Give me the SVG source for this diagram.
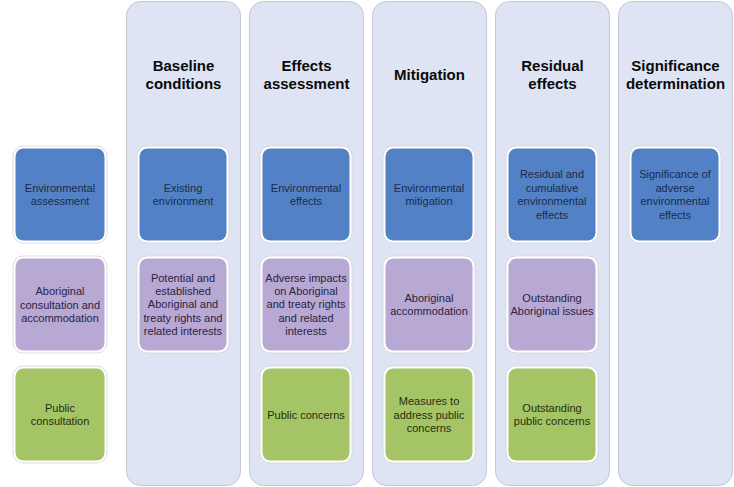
<svg xmlns="http://www.w3.org/2000/svg" width="734" height="487" viewBox="0 0 734 487">
<style>
  .col{fill:#DEE4F4;stroke:#C3C8D3;stroke-width:1}
  .halo{fill:#FFFFFF;stroke:#D3D3D6;stroke-width:0.8}
  .blue{fill:#5282C5}
  .purple{fill:#B8A8D4}
  .green{fill:#A4C465}
  .title{font-family:"Liberation Sans",Arial,sans-serif;font-weight:bold;font-size:15px;fill:#0A0A0A;text-anchor:middle}
  .t{font-family:"Liberation Sans",Arial,sans-serif;font-size:11px;text-anchor:middle}
  .tb{fill:#1B2B4A}
  .tp{fill:#2A2440}
  .tg{fill:#25300F}
</style>
<rect width="734" height="487" fill="#FFFFFF"/>
<g id="columns">
  <g id="col-baseline">
    <rect class="col" x="126.5" y="1.5" width="114" height="484" rx="14"/>
    <text class="title" x="183.5" y="70.5">Baseline<tspan x="183.5" y="88.5">conditions</tspan></text>
  </g>
  <g id="col-effects">
    <rect class="col" x="249.5" y="1.5" width="114" height="484" rx="14"/>
    <text class="title" x="306.5" y="70.5">Effects<tspan x="306.5" y="88.5">assessment</tspan></text>
  </g>
  <g id="col-mitigation">
    <rect class="col" x="372.5" y="1.5" width="114" height="484" rx="14"/>
    <text class="title" x="429.5" y="79.5">Mitigation</text>
  </g>
  <g id="col-residual">
    <rect class="col" x="495.5" y="1.5" width="114" height="484" rx="14"/>
    <text class="title" x="552.5" y="70.5">Residual<tspan x="552.5" y="88.5">effects</tspan></text>
  </g>
  <g id="col-significance">
    <rect class="col" x="618.5" y="1.5" width="114" height="484" rx="14"/>
    <text class="title" x="675.5" y="70.5">Significance<tspan x="675.5" y="88.5">determination</tspan></text>
  </g>
</g>
<g id="connectors"></g>
<!-- left row headers -->
<g id="n-env-assess">
  <rect class="halo" x="13" y="146" width="94" height="97" rx="10"/>
  <rect class="blue" x="15.5" y="148.5" width="89" height="92" rx="8"/>
  <text class="t tb" x="60" y="191.8">Environmental<tspan x="60" y="205.2">assessment</tspan></text>
</g>
<g id="n-abor-consult">
  <rect class="halo" x="13" y="256" width="94" height="97" rx="10"/>
  <rect class="purple" x="15.5" y="258.5" width="89" height="92" rx="8"/>
  <text class="t tp" x="60" y="295.1">Aboriginal<tspan x="60" y="308.5">consultation and</tspan><tspan x="60" y="321.9">accommodation</tspan></text>
</g>
<g id="n-public-consult">
  <rect class="halo" x="13" y="366" width="94" height="97" rx="10"/>
  <rect class="green" x="15.5" y="368.5" width="89" height="92" rx="8"/>
  <text class="t tg" x="60" y="411.8">Public<tspan x="60" y="425.2">consultation</tspan></text>
</g>
<!-- Baseline column -->
<g id="n-existing-env">
  <rect class="halo" x="137" y="146" width="92" height="97" rx="10"/>
  <rect class="blue" x="139.5" y="148.5" width="87" height="92" rx="8"/>
  <text class="t tb" x="183" y="191.8">Existing<tspan x="183" y="205.2">environment</tspan></text>
</g>
<g id="n-potential-rights">
  <rect class="halo" x="137" y="256" width="92" height="97" rx="10"/>
  <rect class="purple" x="139.5" y="258.5" width="87" height="92" rx="8"/>
  <text class="t tp" x="183" y="281.6">Potential and<tspan x="183" y="295">established</tspan><tspan x="183" y="308.4">Aboriginal and</tspan><tspan x="183" y="321.8">treaty rights and</tspan><tspan x="183" y="335.2">related interests</tspan></text>
</g>
<!-- Effects column -->
<g id="n-env-effects">
  <rect class="halo" x="260" y="146" width="92" height="97" rx="10"/>
  <rect class="blue" x="262.5" y="148.5" width="87" height="92" rx="8"/>
  <text class="t tb" x="306" y="191.8">Environmental<tspan x="306" y="205.2">effects</tspan></text>
</g>
<g id="n-adverse-impacts">
  <rect class="halo" x="260" y="256" width="92" height="97" rx="10"/>
  <rect class="purple" x="262.5" y="258.5" width="87" height="92" rx="8"/>
  <text class="t tp" x="306" y="281.6">Adverse impacts<tspan x="306" y="295">on Aboriginal</tspan><tspan x="306" y="308.4">and treaty rights</tspan><tspan x="306" y="321.8">and related</tspan><tspan x="306" y="335.2">interests</tspan></text>
</g>
<g id="n-public-concerns">
  <rect class="halo" x="260" y="366" width="92" height="97" rx="10"/>
  <rect class="green" x="262.5" y="368.5" width="87" height="92" rx="8"/>
  <text class="t tg" x="306" y="418.5">Public concerns</text>
</g>
<!-- Mitigation column -->
<g id="n-env-mitigation">
  <rect class="halo" x="383" y="146" width="92" height="97" rx="10"/>
  <rect class="blue" x="385.5" y="148.5" width="87" height="92" rx="8"/>
  <text class="t tb" x="429" y="191.8">Environmental<tspan x="429" y="205.2">mitigation</tspan></text>
</g>
<g id="n-abor-accommodation">
  <rect class="halo" x="383" y="256" width="92" height="97" rx="10"/>
  <rect class="purple" x="385.5" y="258.5" width="87" height="92" rx="8"/>
  <text class="t tp" x="429" y="301.8">Aboriginal<tspan x="429" y="315.2">accommodation</tspan></text>
</g>
<g id="n-measures">
  <rect class="halo" x="383" y="366" width="92" height="97" rx="10"/>
  <rect class="green" x="385.5" y="368.5" width="87" height="92" rx="8"/>
  <text class="t tg" x="429" y="405.1">Measures to<tspan x="429" y="418.5">address public</tspan><tspan x="429" y="431.9">concerns</tspan></text>
</g>
<!-- Residual column -->
<g id="n-residual-cumulative">
  <rect class="halo" x="506" y="146" width="92" height="97" rx="10"/>
  <rect class="blue" x="508.5" y="148.5" width="87" height="92" rx="8"/>
  <text class="t tb" x="552" y="178.4">Residual and<tspan x="552" y="191.8">cumulative</tspan><tspan x="552" y="205.2">environmental</tspan><tspan x="552" y="218.6">effects</tspan></text>
</g>
<g id="n-outstanding-abor">
  <rect class="halo" x="506" y="256" width="92" height="97" rx="10"/>
  <rect class="purple" x="508.5" y="258.5" width="87" height="92" rx="8"/>
  <text class="t tp" x="552" y="301.8">Outstanding<tspan x="552" y="315.2">Aboriginal issues</tspan></text>
</g>
<g id="n-outstanding-public">
  <rect class="halo" x="506" y="366" width="92" height="97" rx="10"/>
  <rect class="green" x="508.5" y="368.5" width="87" height="92" rx="8"/>
  <text class="t tg" x="552" y="411.8">Outstanding<tspan x="552" y="425.2">public concerns</tspan></text>
</g>
<!-- Significance column -->
<g id="n-significance">
  <rect class="halo" x="629" y="146" width="92" height="97" rx="10"/>
  <rect class="blue" x="631.5" y="148.5" width="87" height="92" rx="8"/>
  <text class="t tb" x="675" y="178.4">Significance of<tspan x="675" y="191.8">adverse</tspan><tspan x="675" y="205.2">environmental</tspan><tspan x="675" y="218.6">effects</tspan></text>
</g>
</svg>
